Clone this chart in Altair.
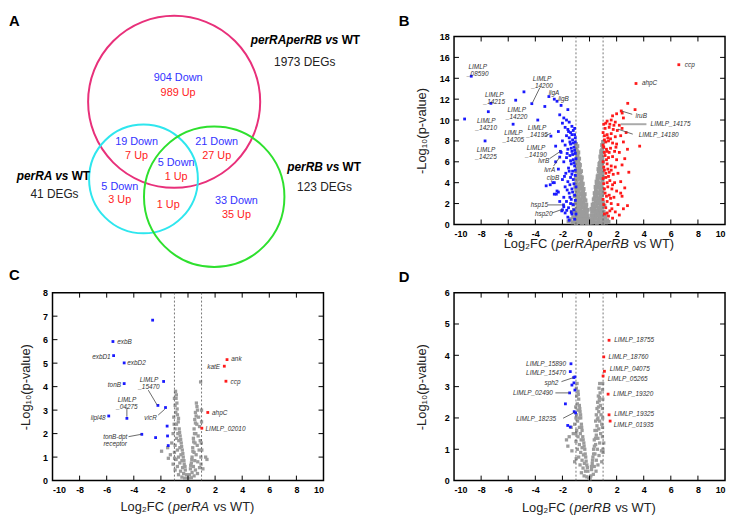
import altair as alt
import pandas as pd

FONT = "Liberation Sans"
BLUE = "#1a1aff"
RED = "#ff1a1a"
GRAY = "#9c9c9c"
TXT = "#333333"

# ---------------- Panel A (Venn) ----------------
VENN_SETS = ["perRAperRB", "perRA", "perRB"]
VENN_COLORS = ["#e8307a", "#2ee6ee", "#2ee02e"]
VENN_CX = [175, 144, 215.5]
VENN_CY = [97, 175, 193]
VENN_R = [87, 55, 71]

COUNT_TEXT = ["904 Down", "989 Up", "19 Down", "7 Up", "21 Down", "27 Up", "5 Down", "1 Up",
              "5 Down", "3 Up", "1 Up", "33 Down", "35 Up"]
COUNT_X = [179, 179, 137, 137, 218, 218, 177, 177, 120, 120, 169, 238, 238]
COUNT_Y = [73, 88, 138, 152, 138, 152, 159, 173, 183, 196, 201, 197, 211]
COUNT_KIND = ["Down", "Up", "Down", "Up", "Down", "Up", "Down", "Up", "Down", "Up", "Up", "Down", "Up"]

SETNAME_ITALIC = ["perRAperRB vs", "perRA vs", "perRB vs"]
SETNAME_X = [341, 68, 342]
SETNAME_WT_X = [363, 90, 364]
SETNAME_Y = [35, 172, 163]
DEG_TEXT = ["1973 DEGs", "41 DEGs", "123 DEGs"]
DEG_X = [307, 54, 327]
DEG_Y = [57, 190, 183]

# ---------------- Volcano common ----------------
X_TICKS = [-10, -8, -6, -4, -2, 0, 2, 4, 6, 8, 10]
THRESH = [-1, 1]

# ---------------- Panel B ----------------
B_YTICKS = [0, 2, 4, 6, 8, 10, 12, 14, 16, 18]
B_GRAY = [(-1.0,7.7),(-0.97,7.3),(-0.93,7.0),(-1.02,6.8),(-0.88,6.6),(-0.96,6.3),(-0.84,6.1),(-1.0,5.9),(-0.79,5.8),
          (-0.92,5.6),(-0.75,5.4),(-0.86,5.2),(-0.99,5.1),(-0.7,5.0),(-0.8,4.8),(-0.94,4.7),(-0.66,4.6),(-0.73,4.4),
          (-0.88,4.3),(-1.01,4.4),(-0.6,4.2),(-0.97,4.0),(-0.68,3.9),(-0.82,3.8),(-0.55,3.7),(-0.9,3.5),(-0.62,3.5),
          (-0.75,3.4),(-1.05,3.6),(-0.48,3.2),(-0.85,3.2),(-0.58,3.0),(-0.96,2.9),(-0.7,2.9),(-0.42,2.7),(-0.8,2.6),
          (-0.52,2.6),(-1.1,2.7),(-0.38,2.4),(-0.64,2.4),(-0.9,2.3),(-0.47,2.1),(-0.75,2.1),(-1.0,2.0),(-0.33,1.9),
          (-0.58,1.9),(-0.85,1.8),(-1.2,1.9),(-0.27,1.6),(-0.5,1.6),(-0.7,1.5),(-0.95,1.5),(-1.15,1.4),(-0.38,1.3),
          (-0.6,1.2),(-0.82,1.2),(-0.2,1.1),(-1.05,1.1),(-0.45,1.0),(-1.3,1.2),(-0.15,0.8),(-0.32,0.8),(-0.55,0.8),
          (-0.75,0.75),(-0.95,0.8),(-1.2,0.7),(-0.1,0.5),(-0.25,0.45),(-0.42,0.5),(-0.65,0.45),(-0.85,0.5),(-1.05,0.4),
          (-1.4,0.5),(-0.05,0.2),(-0.18,0.15),(-0.35,0.2),(-0.55,0.15),(-0.78,0.2),(-1.0,0.15),(-1.25,0.2),(-1.55,0.3),
          (-0.9,7.5),(-0.83,6.9),(-0.77,6.3),(-0.71,5.7),(-0.63,5.1),(-0.57,4.5),(-0.5,3.9),(-0.44,3.4),(-0.36,2.9),
          (-0.3,2.3),(-0.24,1.9),(-0.14,1.4),(-0.98,3.3),(-0.92,2.6),(-0.68,2.2),(-0.78,1.6),(-0.62,1.0),(-0.88,1.0),
          (1.0,7.9),(0.98,7.4),(0.92,7.1),(1.01,6.9),(0.87,6.7),(0.95,6.4),(0.83,6.2),(0.99,6.0),(0.78,5.9),(0.9,5.7),
          (0.74,5.5),(0.85,5.3),(0.98,5.2),(0.69,5.1),(0.79,4.9),(0.93,4.8),(0.65,4.7),(0.72,4.5),(0.87,4.4),(1.0,4.5),
          (0.59,4.3),(0.96,4.1),(0.67,4.0),(0.81,3.9),(0.54,3.8),(0.89,3.6),(0.61,3.6),(0.74,3.5),(0.47,3.3),(0.84,3.3),
          (0.57,3.1),(0.95,3.0),(0.69,3.0),(0.41,2.8),(0.79,2.7),(0.51,2.7),(0.37,2.5),(0.63,2.5),(0.89,2.4),(0.46,2.2),
          (0.74,2.2),(0.99,2.1),(0.32,2.0),(0.57,2.0),(0.84,1.9),(1.1,1.8),(0.26,1.7),(0.49,1.7),(0.69,1.6),(0.94,1.6),
          (0.37,1.4),(0.59,1.3),(0.81,1.3),(0.19,1.2),(1.04,1.2),(0.44,1.1),(1.2,1.0),(0.14,0.85),(0.31,0.85),(0.54,0.85),
          (0.74,0.8),(0.94,0.85),(1.15,0.7),(0.09,0.5),(0.24,0.5),(0.41,0.55),(0.64,0.5),(0.84,0.55),(1.04,0.45),(1.3,0.4),
          (0.04,0.2),(0.17,0.18),(0.34,0.22),(0.54,0.16),(0.77,0.22),(0.99,0.17),(1.22,0.2),(1.4,0.25),
          (0.93,7.6),(0.86,7.0),(0.8,6.5),(0.73,5.8),(0.66,5.3),(0.6,4.6),(0.52,4.1),(0.45,3.6),(0.38,3.0),(0.31,2.4),
          (0.23,1.9),(0.15,1.5),(0.97,3.4),(0.91,2.8),(0.66,2.2),(0.8,1.7),(0.63,1.0),(0.87,1.1)]
B_BLUE = [(-8.73,14.2),(-9.22,10.1),(-7.28,11.6),(-7.47,10.8),(-7.71,8.0),(-5.45,11.9),(-4.84,12.7),(-5.64,9.6),
          (-4.26,11.57),(-3.82,10.0),(-3.0,12.25),(-2.4,11.8),(-3.3,11.3),(-2.85,8.46),(-2.6,4.0),(-3.2,3.7),(-2.3,3.1),
          (-2.45,2.9),(-2.2,2.2),(-1.9,1.7),(-2.05,1.3),(-1.92,1.87),(-1.68,1.35),(-2.15,7.0),(-2.2,6.45),
          (-2.6,12.0),(-2.1,11.4),(-1.6,11.0),(-2.2,10.5),(-1.9,10.2),(-1.7,10.0),(-1.5,9.8),(-2.0,9.7),(-1.3,9.4),
          (-1.8,9.3),(-1.6,9.1),(-1.2,9.0),(-1.4,8.8),(-2.3,8.9),(-1.1,8.6),(-1.7,8.5),(-1.5,8.3),(-1.25,8.1),(-2.0,8.0),
          (-1.05,7.9),(-1.4,7.7),(-1.8,7.6),(-2.5,7.5),(-1.15,7.4),(-1.6,7.2),(-1.3,7.0),(-2.1,6.9),(-1.05,6.8),
          (-1.45,6.6),(-1.7,6.4),(-1.2,6.2),(-1.9,6.0),(-1.35,5.8),(-1.1,5.6),(-1.55,5.4),(-2.3,5.3),(-1.25,5.1),
          (-1.75,4.9),(-1.05,4.7),(-1.4,4.5),(-2.0,4.3),(-1.6,4.1),(-1.15,3.9),(-2.9,3.8),(-1.8,3.6),(-1.3,3.4),
          (-2.4,3.2),(-1.5,3.0),(-1.1,2.8),(-2.6,2.9),(-1.9,2.6),(-1.35,2.4),(-1.7,2.2),(-1.2,1.9),(-1.55,1.6),
          (-2.0,1.4),(-1.8,1.1),(-1.3,1.0),(-1.6,0.7),(-1.1,0.5),(-2.7,4.0),(-2.5,6.0),(-1.1,9.2),(-1.3,8.6),
          (-1.05,8.3),(-1.2,7.8),(-1.35,7.3),(-1.1,7.1),(-1.25,6.7),(-1.0,6.3),(-1.4,6.1),(-1.15,5.9),(-1.05,5.2),
          (-1.3,4.8),(-1.2,4.3),(-1.45,3.8),(-1.0,3.6),(-1.25,3.1),(-1.05,2.3),(-1.4,2.0),(-1.15,1.4),(-1.35,1.2),
          (-1.0,1.0),(-1.5,0.4),(-1.55,8.9),(-1.45,7.9),(-1.65,6.8),(-1.5,5.1),(-1.85,4.6),(-1.65,3.3),(-1.45,2.6)]
B_RED = [(6.59,15.3),(3.43,13.5),(2.34,10.87),(2.82,11.6),(3.36,11.0),(2.41,10.67),(3.7,7.5),(2.0,10.6),(2.5,10.2),
         (1.7,10.4),(1.05,9.6),(1.3,9.9),(1.6,10.0),(1.9,9.8),(2.2,9.5),(1.15,9.2),(1.45,9.3),(1.75,9.1),(2.05,9.0),
         (2.4,9.2),(1.0,8.8),(1.3,8.6),(1.6,8.7),(1.9,8.4),(2.3,8.5),(2.7,8.8),(1.1,8.1),(1.4,8.0),(1.7,7.8),(2.0,7.7),
         (2.5,7.9),(1.05,7.4),(1.25,7.2),(1.55,7.3),(1.85,7.0),(2.2,6.9),(2.8,7.2),(1.15,6.6),(1.4,6.4),(1.7,6.5),
         (2.0,6.2),(2.6,6.3),(1.0,6.0),(1.3,5.8),(1.6,5.6),(1.9,5.5),(2.4,5.7),(1.1,5.2),(1.45,5.0),(1.75,4.8),
         (2.1,4.9),(2.9,5.0),(1.2,4.5),(1.5,4.2),(1.85,4.0),(2.3,4.1),(1.05,3.9),(1.35,3.6),(1.65,3.4),(2.0,3.2),
         (2.6,3.5),(1.15,3.0),(1.45,2.8),(1.8,2.6),(2.4,2.7),(1.0,2.4),(1.3,2.2),(1.6,2.0),(2.1,1.9),(1.2,1.6),
         (1.5,1.3),(1.9,1.2),(2.5,1.5),(1.1,1.0),(1.4,0.8),(1.7,0.6),(2.2,0.9),(2.8,1.8),(2.3,3.0),(1.95,7.4),
         (1.2,9.7),(1.1,8.5),(1.35,8.3),(1.2,7.9),(1.0,7.6),(1.3,7.0),(1.1,6.9),(1.25,6.2),(1.05,5.5),(1.35,5.3),
         (1.2,4.9),(1.0,4.4),(1.3,4.0),(1.1,3.4),(1.25,2.7),(1.05,1.9),(1.3,1.1),(1.5,9.6),(1.8,9.5),(1.55,8.2),
         (1.45,6.9),(1.6,5.2),(1.4,4.6),(1.7,3.8),(1.55,2.5),(1.65,1.5)]
B_LABELS = [("LIMLP\n_08590",-8.25,15.07,"center"),("LIMLP\n_14215",-7.03,12.37,"center"),
            ("LIMLP\n_14210",-7.62,9.92,"center"),("LIMLP\n_14225",-7.64,7.1,"center"),
            ("LIMLP\n_14220",-5.38,11.0,"center"),("LIMLP\n_14205",-5.62,8.78,"center"),
            ("LIMLP\n_14200",-3.5,13.95,"center"),("LIMLP\n_14195",-3.87,9.2,"center"),
            ("LIMLP\n_14190",-3.95,7.35,"center"),("ligA",-2.62,12.6,"center"),("ligB",-1.92,12.0,"center"),
            ("lvrB",-3.38,6.05,"center"),("lvrA",-2.94,5.2,"center"),("clpB",-2.7,4.47,"center"),
            ("hsp15",-3.7,1.87,"center"),("hsp20",-3.38,0.98,"center"),
            ("ccp",6.89,15.3,"left"),("ahpC",3.72,13.53,"left"),("lruB",3.25,10.39,"left"),
            ("LIMLP_14175",4.36,9.6,"left"),("LIMLP_14180",3.48,8.59,"left")]
B_LEADERS = [(-3.67,13.09,-4.21,11.66),(-3.3,8.45,-2.85,8.75),(-2.95,6.3,-2.15,7.0),(-2.65,5.6,-2.2,6.45),
             (-3.07,1.87,-1.92,1.87),(-2.77,1.1,-2.0,1.45),(3.15,10.55,2.4,10.85),(3.19,8.65,2.09,9.13)]
B_LEADERS_WIDE = [(2.3,9.6,4.2,9.6)]

# ---------------- Panel C ----------------
C_YTICKS = [0, 1, 2, 3, 4, 5, 6, 7, 8]
C_GRAY = [(-0.92,3.8),(-0.88,3.5),(-0.95,3.2),(-0.82,3.3),(-0.9,2.9),(-0.78,2.8),(-1.05,2.7),(-0.72,2.5),(-0.85,2.4),
          (-0.95,2.2),(-0.65,2.2),(-0.75,2.0),(-1.1,2.0),(-0.58,1.9),(-0.85,1.8),(-0.68,1.7),(-1.2,1.6),(-0.5,1.6),
          (-0.95,1.5),(-0.6,1.4),(-0.78,1.3),(-0.42,1.3),(-1.0,1.2),(-0.52,1.1),(-1.3,1.1),(-0.7,1.0),(-0.35,1.0),
          (-0.88,0.9),(-0.45,0.85),(-0.6,0.75),(-1.1,0.7),(-0.28,0.7),(-0.78,0.6),(-0.4,0.55),(-0.95,0.45),(-0.2,0.45),
          (-0.55,0.4),(-0.32,0.3),(-0.7,0.25),(-0.12,0.25),(-0.45,0.15),(-0.05,0.1),(-0.25,0.1),(-1.95,1.25),
          (-1.45,0.95),(-1.5,1.4),(0.62,3.3),(0.7,3.0),(0.55,2.9),(0.78,2.7),(0.5,2.6),(0.65,2.4),(0.85,2.3),(0.45,2.2),
          (0.58,2.0),(0.75,1.9),(0.4,1.8),(0.9,1.7),(0.52,1.6),(0.68,1.5),(0.35,1.4),(0.82,1.3),(0.45,1.2),(0.6,1.1),
          (0.3,1.0),(0.95,1.0),(0.5,0.85),(0.72,0.8),(0.25,0.75),(0.4,0.6),(0.85,0.55),(0.18,0.5),(0.55,0.45),
          (0.3,0.35),(0.7,0.3),(0.12,0.25),(0.45,0.2),(0.05,0.1),(0.25,0.12),(0.93,4.2),(1.0,3.0),(1.3,1.0),(1.4,0.9),
          (1.1,0.5),(0.98,1.6),(-0.86,3.65),(-0.8,3.05),(-0.7,2.65),(-0.62,2.05),(-0.54,1.75),(-0.47,1.45),
          (-0.38,1.15),(-0.3,0.85),(-0.22,0.6),(0.66,3.15),(0.6,2.75),(0.55,2.45),(0.48,2.0),(0.42,1.65),(0.36,1.25),
          (0.28,0.9),(0.2,0.65),(-1.0,3.5),(-1.02,2.4),(1.0,2.5),(1.02,1.3),(-0.99,0.95),(0.96,0.7)]
C_BLUE = [(-2.61,6.83),(-5.54,5.92),(-5.49,5.32),(-4.71,5.01),(-1.8,4.22),(-4.71,4.13),(-2.22,3.2),(-1.66,3.11),
          (-4.51,2.65),(-5.85,2.75),(-3.41,1.97),(-2.39,1.83),(-1.54,2.32),(-1.51,1.9),(-1.46,1.49)]
C_RED = [(2.88,5.15),(2.68,4.87),(2.8,4.23),(1.46,2.9),(1.02,2.23)]
C_LABELS = [("exbB",-5.37,5.92,"left"),("exbD1",-5.56,5.25,"right"),("exbD2",-4.63,5.0,"left"),
            ("tonB",-4.8,4.08,"right"),("LIMLP\n_15470",-2.88,4.27,"center"),("LIMLP\n_04275",-4.51,3.42,"center"),
            ("vicR",-2.76,2.68,"center"),("lipl48",-5.93,2.68,"right"),("tonB-dpt\nreceptor",-5.37,1.85,"center"),
            ("ank",3.05,5.18,"left"),("katE",2.51,4.83,"right"),("ccp",3.0,4.2,"left"),("ahpC",1.63,2.86,"left"),
            ("LIMLP_02010",1.15,2.2,"left")]
C_LEADERS = [(-2.93,3.85,-2.27,3.21),(-4.51,3.1,-4.51,2.72),(-2.2,2.79,-1.71,3.04),(-4.39,1.87,-3.45,1.97)]

# ---------------- Panel D ----------------
D_YTICKS = [0, 1, 2, 3, 4, 5, 6]
D_GRAY = [(-0.92,3.1),(-0.97,2.95),(-0.85,2.85),(-0.95,2.7),(-0.8,2.6),(-0.9,2.45),(-0.75,2.4),(-1.02,2.35),
          (-0.85,2.25),(-0.7,2.2),(-0.95,2.1),(-0.78,2.0),(-0.65,2.0),(-0.88,1.9),(-0.6,1.8),(-1.1,1.8),(-0.75,1.7),
          (-0.95,1.6),(-0.55,1.6),(-0.68,1.5),(-1.2,1.5),(-0.85,1.4),(-0.5,1.4),(-0.62,1.3),(-1.0,1.25),(-0.42,1.2),
          (-0.75,1.15),(-0.55,1.05),(-0.9,1.0),(-0.35,1.0),(-0.65,0.9),(-1.3,0.95),(-0.45,0.82),(-0.8,0.75),
          (-0.28,0.75),(-0.55,0.65),(-0.38,0.55),(-0.7,0.5),(-0.2,0.5),(-0.48,0.4),(-0.3,0.3),(-0.12,0.3),(-0.6,0.25),
          (-0.4,0.15),(-0.2,0.12),(-0.06,0.08),(-1.5,1.4),(-1.6,1.1),(-1.35,1.7),(-1.7,1.3),(-1.1,0.6),
          (0.75,3.1),(0.7,2.95),(0.78,2.8),(0.65,2.7),(0.72,2.55),(0.6,2.5),(0.8,2.4),(0.55,2.3),(0.68,2.2),(0.85,2.1),
          (0.5,2.1),(0.62,2.0),(0.75,1.9),(0.45,1.9),(0.9,1.8),(0.55,1.75),(0.68,1.65),(0.4,1.6),(0.82,1.5),(0.5,1.45),
          (0.95,1.4),(0.62,1.35),(0.35,1.3),(0.75,1.2),(0.45,1.15),(0.58,1.0),(0.3,1.0),(0.88,0.95),(0.4,0.85),
          (0.7,0.8),(0.25,0.75),(0.5,0.65),(0.2,0.55),(0.62,0.5),(0.35,0.45),(0.15,0.35),(0.48,0.3),(0.28,0.2),
          (0.1,0.15),(0.04,0.06),(0.97,3.1),(0.96,2.9),(0.98,2.6),(0.95,2.3),(0.97,2.0),(0.96,1.7),(1.05,1.2),(1.0,0.9),
          (-0.83,2.75),(-0.72,2.3),(-0.66,2.1),(-0.58,1.7),(-0.47,1.3),(-0.4,1.1),(-0.32,0.85),(-0.25,0.62),
          (-0.16,0.42),(0.73,2.65),(0.66,2.35),(0.58,1.95),(0.52,1.6),(0.44,1.35),(0.36,1.1),(0.3,0.85),(0.22,0.65),
          (0.14,0.45),(-1.0,2.0),(-1.0,1.5),(-0.98,0.7),(0.99,1.0),(0.9,0.6)]
D_BLUE = [(-1.37,3.73),(-1.42,3.48),(-1.08,3.31),(-1.17,3.29),(-1.3,3.05),(-1.15,3.12),(-1.08,2.89),(-1.47,2.8),
          (-1.78,2.45),(-1.13,2.2),(-1.03,2.16),(-1.61,1.76),(-1.42,1.71)]
D_RED = [(1.44,4.48),(1.05,3.95),(1.1,3.49),(1.0,3.34),(1.37,2.76),(1.44,2.1),(1.52,1.9)]
D_LABELS = [("LIMLP_15890",-1.59,3.73,"right"),("LIMLP_15470",-1.59,3.42,"right"),("sph2",-2.15,3.11,"right"),
            ("LIMLP_02490",-2.56,2.8,"right"),("LIMLP_18235",-2.32,1.97,"right"),
            ("LIMLP_18755",1.68,4.48,"left"),("LIMLP_18760",1.25,3.96,"left"),("LIMLP_04075",1.35,3.55,"left"),
            ("LIMLP_05265",1.2,3.23,"left"),("LIMLP_19320",1.61,2.76,"left"),("LIMLP_19325",1.68,2.13,"left"),
            ("LIMLP_01935",1.64,1.79,"left")]
D_LEADERS = [(-2.07,3.16,-1.18,3.29),(-2.52,2.8,-1.52,2.8),(-1.95,1.99,-1.1,2.18)]

PW, PH = 274, 190


def pts(lst):
    return pd.DataFrame(lst, columns=["x", "y"])


def letter_layer(letter, lx, ly):
    return alt.Chart(pd.DataFrame({"t": [letter]})).mark_text(
        font=FONT, fontSize=15, fontWeight="bold", baseline="top", align="left", color="black").encode(
        x=alt.value(lx), y=alt.value(ly), text="t:N")


def volcano(gray, gsize, blue, red, labels, leaders, wide, ymax, yticks, strain, strain_w, title_dy,
            letter, lx, ly, ytpad):
    xs = alt.Scale(domain=[-10, 10], nice=False, zero=False)
    ys = alt.Scale(domain=[0, ymax], nice=False, zero=False)
    xax = alt.Axis(values=X_TICKS, title="", labelExpr="'' + datum.value", domain=False, ticks=False,
                   grid=False, labelFont=FONT, labelFontSize=9, labelFontWeight="bold", labelColor="black",
                   labelPadding=5)
    yax = alt.Axis(values=yticks, title="-Log₁₀(p-value)", labelExpr="'' + datum.value", domain=False,
                   ticks=False, grid=False, labelFont=FONT, labelFontSize=9, labelFontWeight="bold",
                   labelColor="black", labelPadding=5, titleFont=FONT, titleFontSize=13,
                   titleFontWeight="normal", titleColor="#222222", titlePadding=ytpad)
    xe = alt.X("x:Q", scale=xs, axis=xax)
    ye = alt.Y("y:Q", scale=ys, axis=yax)

    layers = []
    layers.append(alt.Chart(pts(gray)).mark_square(size=gsize, color=GRAY, opacity=1).encode(x=xe, y=ye))
    layers.append(alt.Chart(pd.DataFrame({"x": THRESH})).mark_rule(
        color="#555555", strokeDash=[2, 2], strokeWidth=0.8).encode(x=xe))
    layers.append(alt.Chart(pts(blue)).mark_square(size=8, color=BLUE, opacity=1).encode(x=xe, y=ye))
    layers.append(alt.Chart(pts(red)).mark_square(size=8, color=RED, opacity=1).encode(x=xe, y=ye))
    if wide:
        layers.append(alt.Chart(pd.DataFrame(wide, columns=["x", "y", "x2", "y2"])).mark_rule(
            color="#aaaaaa", strokeWidth=2).encode(x=xe, y=ye, x2="x2:Q", y2="y2:Q"))
    layers.append(alt.Chart(pd.DataFrame(leaders, columns=["x", "y", "x2", "y2"])).mark_rule(
        color="#444444", strokeWidth=0.8).encode(x=xe, y=ye, x2="x2:Q", y2="y2:Q"))
    ldf = pd.DataFrame(labels, columns=["t", "x", "y", "al"])
    for al in ["left", "right", "center"]:
        sub = ldf[ldf.al == al]
        if len(sub):
            layers.append(alt.Chart(sub).mark_text(
                font=FONT, fontSize=6.5, fontStyle="italic", color=TXT, align=al, baseline="middle",
                lineBreak="\n", lineHeight=7, dx=(2 if al == "left" else (-2 if al == "right" else 0))
            ).encode(x=xe, y=ye, text="t:N"))
    xt = pd.DataFrame({"x": X_TICKS[1:-1]})
    yt = pd.DataFrame({"y": yticks[1:-1]})
    layers.append(alt.Chart(xt).mark_rule(color="black", strokeWidth=1).encode(
        x=xe, y=alt.value(PH), y2=alt.value(PH - 5)))
    layers.append(alt.Chart(xt).mark_rule(color="black", strokeWidth=1).encode(
        x=xe, y=alt.value(0), y2=alt.value(5)))
    layers.append(alt.Chart(yt).mark_rule(color="black", strokeWidth=1).encode(
        y=ye, x=alt.value(0), x2=alt.value(5)))
    layers.append(alt.Chart(yt).mark_rule(color="black", strokeWidth=1).encode(
        y=ye, x=alt.value(PW), x2=alt.value(PW - 5)))
    # x-axis title with the strain name in italics: "Log₂FC (" + strain + " vs WT)"
    cx = PW / 2 + 3
    ty = PH + title_dy
    tstyle = dict(font=FONT, fontSize=13, color="#222222", baseline="middle")
    layers.append(alt.Chart(pd.DataFrame({"t": [strain]})).mark_text(
        align="center", fontStyle="italic", **tstyle).encode(
        text="t:N", x=alt.value(cx), y=alt.value(ty)))
    layers.append(alt.Chart(pd.DataFrame({"t": ["Log₂FC ("]})).mark_text(
        align="right", **tstyle).encode(
        text="t:N", x=alt.value(cx - strain_w / 2 - 1), y=alt.value(ty)))
    layers.append(alt.Chart(pd.DataFrame({"t": ["vs WT)"]})).mark_text(
        align="left", **tstyle).encode(
        text="t:N", x=alt.value(cx + strain_w / 2 + 4.5), y=alt.value(ty)))
    layers.append(letter_layer(letter, lx, ly))
    return alt.layer(*layers).properties(width=PW, height=PH)


# ---------------- Build Venn (coordinates in figure pixels; panel origin at (52, 31)) ----------------
AW = 320
vx = alt.X("x:Q", scale=alt.Scale(domain=[52, 52 + AW], nice=False, zero=False), axis=None)
vy = alt.Y("y:Q", scale=alt.Scale(domain=[31, 31 + PH], reverse=True, nice=False, zero=False), axis=None)

circ = pd.DataFrame({"set": VENN_SETS, "x": VENN_CX, "y": VENN_CY,
                     "s": [(2 * r) ** 2 for r in VENN_R]})
venn_layers = [
    alt.Chart(circ).mark_point(shape="circle", filled=False, strokeWidth=2, opacity=1).encode(
        x=vx, y=vy, size=alt.Size("s:Q", scale=None, legend=None),
        color=alt.Color("set:N", scale=alt.Scale(domain=VENN_SETS, range=VENN_COLORS), legend=None)),
    alt.Chart(pd.DataFrame({"t": COUNT_TEXT, "x": COUNT_X, "y": COUNT_Y, "k": COUNT_KIND})).mark_text(
        font=FONT, fontSize=11, baseline="middle", align="center").encode(
        x=vx, y=vy, text="t:N",
        color=alt.Color("k:N", scale=alt.Scale(domain=["Down", "Up"], range=["#3333ff", "#ff2222"]), legend=None)),
    alt.Chart(pd.DataFrame({"t": SETNAME_ITALIC, "x": SETNAME_X, "y": SETNAME_Y})).mark_text(
        font=FONT, fontSize=12, fontWeight="bold", fontStyle="italic", baseline="middle", align="right",
        color="black").encode(x=vx, y=vy, text="t:N"),
    alt.Chart(pd.DataFrame({"t": ["WT", "WT", "WT"], "x": SETNAME_WT_X, "y": SETNAME_Y})).mark_text(
        font=FONT, fontSize=12, fontWeight="bold", baseline="middle", align="right",
        color="black").encode(x=vx, y=vy, text="t:N"),
    alt.Chart(pd.DataFrame({"t": DEG_TEXT, "x": DEG_X, "y": DEG_Y})).mark_text(
        font=FONT, fontSize=12, baseline="middle", align="center", color="#222222").encode(
        x=vx, y=vy, text="t:N"),
    letter_layer("A", -44, -23),
]
panel_a = alt.layer(*venn_layers).resolve_scale(color="independent").properties(
    width=AW, height=PH, view=alt.ViewBackground(stroke="transparent"))

panel_b = volcano(B_GRAY, 16, B_BLUE, B_RED, B_LABELS, B_LEADERS, B_LEADERS_WIDE, 18, B_YTICKS,
                  "perRAperRB", 73.7, 20, "B", -56, -23, 11)
panel_c = volcano(C_GRAY, 11, C_BLUE, C_RED, C_LABELS, C_LEADERS, None, 8, C_YTICKS,
                  "perRA", 36.8, 27, "C", -44, -25, 10)
panel_d = volcano(D_GRAY, 11, D_BLUE, D_RED, D_LABELS, D_LEADERS, None, 6, D_YTICKS,
                  "perRB", 36.8, 28, "D", -56, -23, 16)

chart = alt.concat(panel_a, panel_b, panel_c, panel_d, columns=2,
                   spacing={"row": -5, "column": 28}, padding=0).configure_view(
    stroke="black", strokeWidth=1.5)

chart.save("out.html", embed_options={"renderer": "svg", "actions": False})
